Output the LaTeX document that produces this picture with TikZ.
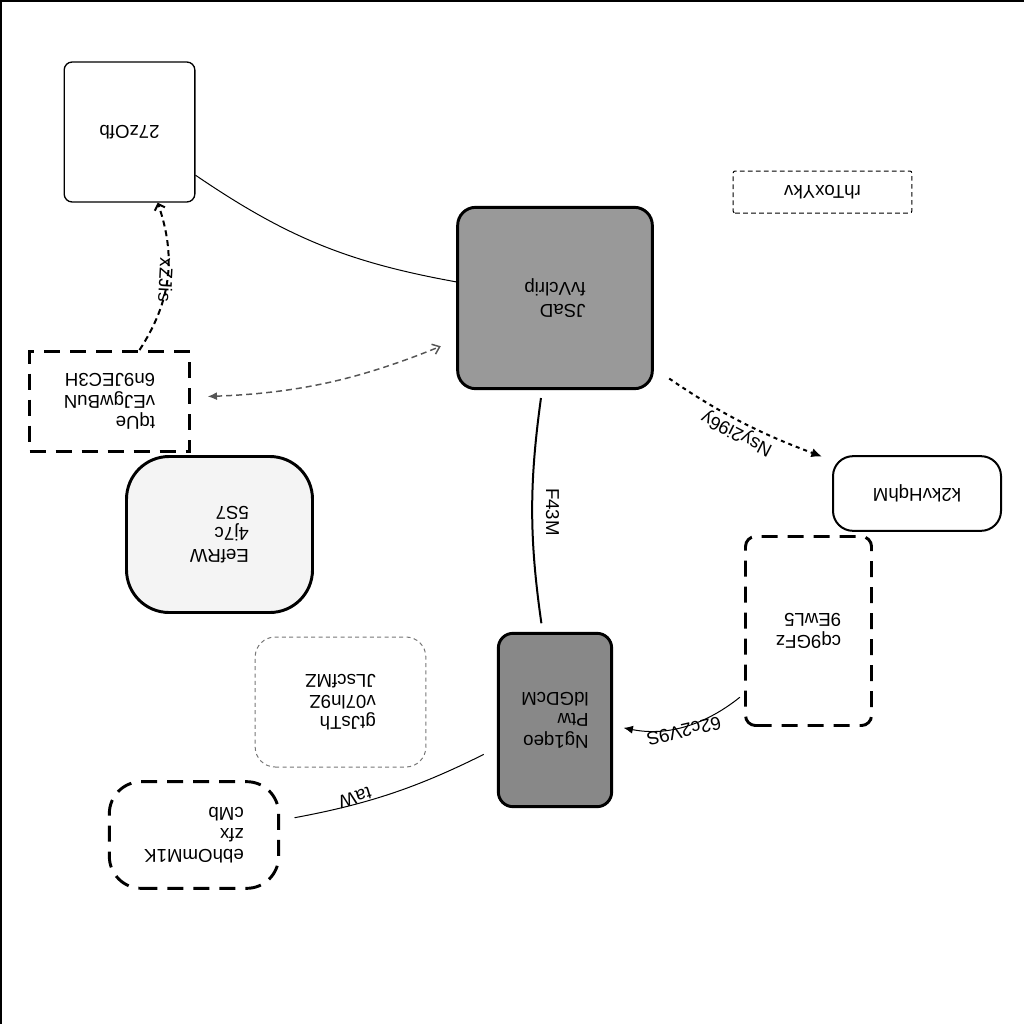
\documentclass[tikz,border=0pt]{standalone}
\usepackage{fontspec}
\setmainfont{Liberation Sans}
\usetikzlibrary{arrows.meta}
\definecolor{cfill}{HTML}{999999}
\definecolor{hfill}{HTML}{888888}
\definecolor{efill}{HTML}{F4F4F4}
\definecolor{dgray}{HTML}{555555}
\definecolor{igray}{HTML}{777777}
\begin{document}
\begin{tikzpicture}[x=0.75pt,y=0.75pt,
  every node/.style={font=\fontsize{14}{16}\selectfont},
  box/.style={draw, align=left, rotate=180, inner sep=0pt},
  thickdash/.style={line width=2.2pt, dash pattern=on 12pt off 7.5pt},
  lbl/.style={inner sep=1pt}]
\useasboundingbox (0,0) rectangle (1024,-1024);
\draw[line width=1.5pt] (0,-1) -- (1024,-1);
\draw[line width=1.5pt] (1,0) -- (1,-1024);

\node[box, line width=1pt, rounded corners=6pt, minimum width=98pt, minimum height=105pt] (A) at (129.5,-132) {27zOfb};
\node[box, line width=0.75pt, dash pattern=on 3.5pt off 2.5pt, rounded corners=1.5pt, minimum width=134pt, minimum height=31.5pt] (B) at (822.5,-192) {rhToxYkv};
\node[box, fill=cfill, line width=2.2pt, rounded corners=13.5pt, minimum width=146pt, minimum height=136pt] (C) at (555,-298) {JSaD\\fvVclrip};
\node[box, thickdash, minimum width=120pt, minimum height=75pt] (D) at (109.5,-401.5) {tqUe\\vEJgwBuN\\6n9JEC3H};
\node[box, fill=efill, line width=2.2pt, rounded corners=32pt, minimum width=139.5pt, minimum height=117pt] (E) at (219.5,-534.5) {EefRW\\4j7c\\5S7};
\node[box, line width=1.5pt, rounded corners=15pt, minimum width=126pt, minimum height=56pt] (F) at (917,-493.5) {k2kvHqhM};
\node[box, thickdash, rounded corners=7.5pt, minimum width=94.5pt, minimum height=141.75pt] (G) at (808.5,-631) {cq9GFz\\9EwL5};
\node[box, fill=hfill, line width=2.2pt, rounded corners=11pt, minimum width=85pt, minimum height=130pt] (H) at (555,-720) {Ng1qeo\\Ptw\\ldGDcM};
\node[box, draw=igray, line width=0.75pt, dash pattern=on 3pt off 2.5pt, rounded corners=15pt, minimum width=128pt, minimum height=97.5pt] (I) at (340.5,-702) {gtJsTh\\v07ln9Z\\JLscfMZ};
\node[box, thickdash, rounded corners=24pt, minimum width=127pt, minimum height=80pt] (J) at (194,-835) {ebhOmM1K\\zfx\\cMb};

\draw[line width=0.75pt] (A) to[bend right=12] (C);
\draw[line width=1.5pt, dash pattern=on 4.5pt off 3pt, -{Straight Barb[length=4pt,width=8pt]}] (D) to[bend right=26] (A);
\draw[dgray, line width=1.1pt, dash pattern=on 4.5pt off 3pt, {Latex[length=7pt,width=6pt]}-{Straight Barb[length=5pt,width=8pt]}, shorten <=12.5pt, shorten >=12.5pt] (D) to[bend right=10] (C);
\draw[line width=1.5pt, dash pattern=on 3pt off 3pt, -{Latex[length=8pt,width=7pt]}, shorten <=14pt, shorten >=8pt] (C) to[bend right=7] (F);
\draw[line width=1.5pt, shorten <=6pt, shorten >=6.5pt] (C) to[bend right=8] (H);
\draw[line width=0.75pt, -{Latex[length=7pt,width=6pt]}, shorten <=4pt, shorten >=8pt] (G) to[bend left=25] (H);
\draw[line width=0.75pt, shorten <=11pt, shorten >=11pt] (J) to[bend right=8] (H);

\node[lbl, rotate=-93] (l1) at (166,-280) {xZJis};
\node[lbl, rotate=153] (l2) at (737,-433) {Nsy2i96y};
\node[lbl, rotate=-90] (l3) at (552.5,-512) {F43M};
\node[lbl, rotate=193] (l4) at (684,-731) {62c2V9S};
\node[lbl, rotate=197] (l5) at (355,-797.5) {taW};
\end{tikzpicture}
\end{document}
